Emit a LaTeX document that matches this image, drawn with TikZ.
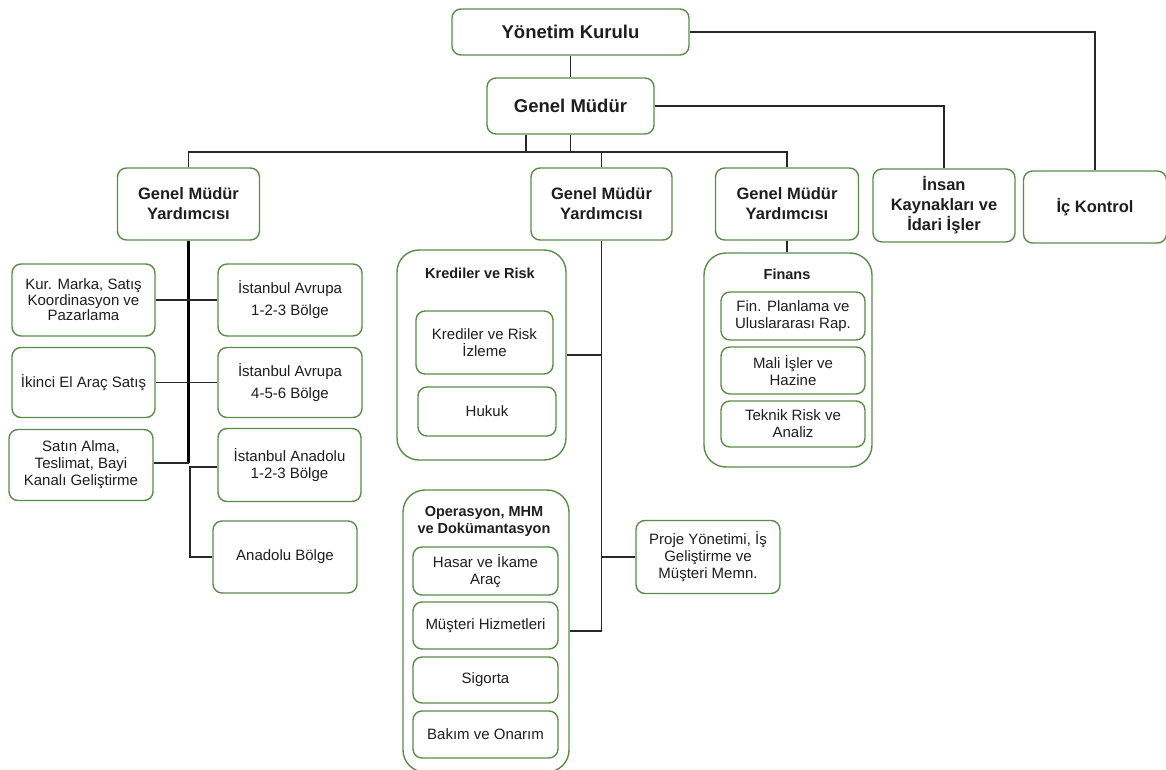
\documentclass[tikz,border=0pt]{standalone}
\usepackage{fontspec}
\setmainfont{Liberation Sans}
\definecolor{bgreen}{RGB}{88,140,72}
\definecolor{ink}{RGB}{30,30,30}
\definecolor{wirec}{RGB}{40,40,40}
\tikzset{
 box/.style={draw=bgreen, line width=1.4pt, rounded corners=9pt, fill=white, align=center, inner sep=0pt, text=ink, font=\fontsize{15}{17}\selectfont},
 widebox/.style={box, font=\fontsize{15}{22}\selectfont},
 tightbox/.style={box, font=\fontsize{15}{15.5}\selectfont},
 topbox/.style={box, font=\bfseries\fontsize{18.5}{22}\selectfont},
 midbox/.style={box, font=\bfseries\fontsize{16.5}{20}\selectfont},
 cont/.style={draw=bgreen, line width=1.4pt, rounded corners=22pt, fill=white, inner sep=0pt},
 ctitle/.style={font=\bfseries\fontsize{14.5}{17}\selectfont, align=center, text=ink, inner sep=0pt},
 wire/.style={draw=wirec, line width=1.3pt},
 heavywire/.style={draw=black, line width=2.4pt},
}
\begin{document}
\begin{tikzpicture}[x=1pt,y=-1pt]
\useasboundingbox (0,0) rectangle (1166,770);
% top level
\node[topbox, minimum width=237pt, minimum height=46pt] (yk) at (570.5,32) {Yönetim Kurulu};
\node[topbox, minimum width=167pt, minimum height=56pt] (gm) at (570.5,106) {Genel Müdür};
\node[midbox, minimum width=142pt, minimum height=72pt] (gmy1) at (188.5,204) {Genel Müdür\\Yardımcısı};
\node[midbox, minimum width=141pt, minimum height=72pt] (gmy2) at (601.5,204) {Genel Müdür\\Yardımcısı};
\node[midbox, minimum width=143pt, minimum height=72pt] (gmy3) at (787,204) {Genel Müdür\\Yardımcısı};
\node[midbox, minimum width=142pt, minimum height=73pt] (ik) at (944,205.5) {İnsan\\Kaynakları ve\\İdari İşler};
\node[midbox, minimum width=143pt, minimum height=72pt] (ick) at (1095,207) {İç Kontrol};
% left branch
\node[tightbox, minimum width=143pt, minimum height=72pt] (kur) at (83.5,300) {Kur. Marka, Satış\\Koordinasyon ve\\Pazarlama};
\node[widebox, minimum width=144pt, minimum height=72pt] (ist1) at (290,300) {İstanbul Avrupa\\1-2-3 Bölge};
\node[box, minimum width=143pt, minimum height=70pt] (ikinci) at (83.5,382.5) {İkinci El Araç Satış};
\node[widebox, minimum width=144pt, minimum height=70pt] (ist2) at (290,382.5) {İstanbul Avrupa\\4-5-6 Bölge};
\node[box, minimum width=144pt, minimum height=71pt] (satin) at (81,465) {Satın Alma,\\Teslimat, Bayi\\Kanalı Geliştirme};
\node[box, minimum width=143pt, minimum height=73pt] (ista) at (289.5,465) {İstanbul Anadolu\\1-2-3 Bölge};
\node[box, minimum width=144pt, minimum height=72pt] (anadolu) at (285,557) {Anadolu Bölge};
% centre branch
\node[cont, minimum width=169pt, minimum height=210pt] (kredc) at (481.5,355) {};
\node[ctitle] (kredt) at (480,273) {Krediler ve Risk};
\node[box, minimum width=137pt, minimum height=63pt] (kred1) at (484.5,342.5) {Krediler ve Risk\\İzleme};
\node[box, minimum width=138pt, minimum height=49pt] (hukuk) at (487,411.5) {Hukuk};
\node[cont, minimum width=166pt, minimum height=282pt] (opc) at (486,631) {};
\node[ctitle] (opt) at (484,521.5) {Operasyon, MHM\\ve Dokümantasyon};
\node[box, minimum width=145pt, minimum height=48pt] (hasar) at (485.5,571) {Hasar ve İkame\\Araç};
\node[box, minimum width=145pt, minimum height=47pt] (musteri) at (485.5,625.5) {Müşteri Hizmetleri};
\node[box, minimum width=145pt, minimum height=46pt] (sigorta) at (485.5,680) {Sigorta};
\node[box, minimum width=145pt, minimum height=47pt] (bakim) at (485.5,734.5) {Bakım ve Onarım};
\node[box, minimum width=144pt, minimum height=73pt] (proje) at (708,557) {Proje Yönetimi, İş\\Geliştirme ve\\Müşteri Memn.};
% finance
\node[cont, minimum width=168pt, minimum height=214pt] (finc) at (788,360) {};
\node[ctitle] (fint) at (787,274) {Finans};
\node[box, minimum width=144pt, minimum height=48pt] (fin1) at (793,316) {Fin. Planlama ve\\Uluslararası Rap.};
\node[box, minimum width=144pt, minimum height=47pt] (mali) at (793,370.5) {Mali İşler ve\\Hazine};
\node[box, minimum width=144pt, minimum height=46pt] (teknik) at (793,424) {Teknik Risk ve\\Analiz};
% coordinates
\coordinate (bus) at (0,152);
\coordinate (t1) at (188.5,463);
\coordinate (t2) at (190,467);
\coordinate (t3) at (190,557);
\coordinate (ct) at (601.5,631);
% connectors top
\draw[wire] (yk.south) -- (gm.north);
\draw[wire] (yk.east) -| (ick.north);
\draw[wire] (gm.east) -| (ik.north);
\draw[wire] (gmy1.north) -- (gmy1.north |- bus) -- (gmy3.north |- bus) -- (gmy3.north);
\draw[wire] ([xshift=-44.5pt]gm.south) -- ([xshift=-44.5pt]gm.south |- bus);
\draw[wire, line width=1.9pt] (gm.south) -- (gm.south |- bus) -| (gmy2.north);
% left
\draw[heavywire] (gmy1.south) -- (t1);
\draw[wire] (kur.east) -- (ist1.west);
\draw[wire] (ikinci.east) -- (ist2.west);
\draw[wire] (satin.east |- t1) -- (t1);
\draw[wire] (ista.west |- t2) -- (t2) -- (t3) -- (anadolu.west);
% centre
\draw[wire] (gmy2.south) -- (ct);
\draw[wire] (kredc.east) -- (kredc.east -| ct);
\draw[wire] (opc.east) -- (ct);
\draw[wire] (proje.west) -- (proje.west -| ct);
% finance
\draw[wire] (gmy3.south) -- (gmy3.south |- finc.north);
\end{tikzpicture}
\end{document}
